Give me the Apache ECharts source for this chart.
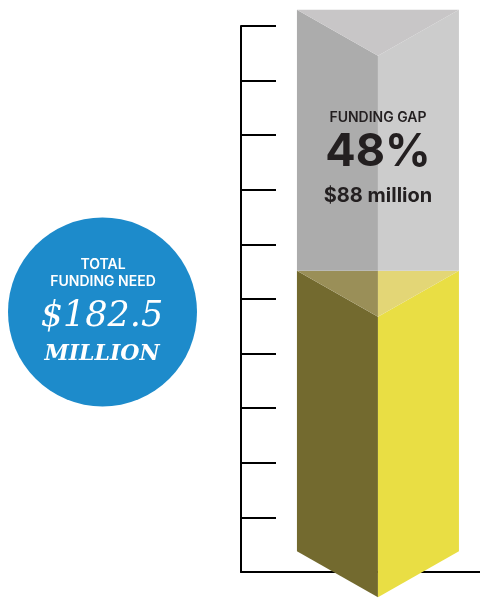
<!DOCTYPE html>
<html>
<head>
<meta charset="utf-8">
<script src="https://cdn.jsdelivr.net/npm/echarts@6/dist/echarts.min.js"></script>
<style>
  html, body { margin: 0; padding: 0; background: #fff; }
  #chart { width: 480px; height: 598px; }
</style>
</head>
<body>
<div id="chart"></div>
<script>
// values in millions
const segments = ['Funded', 'Funding gap']
const segmentValues = [94.5, 88]
const totalNeed = 182.5
// decorative scale on the left: 10 ticks
const scaleTicks = [0, 1, 2, 3, 4, 5, 6, 7, 8, 9, 10]

const funded = segmentValues[0]
const gap = segmentValues[1]
const gapPct = Math.round(gap / totalNeed * 100)

const chart = echarts.init(document.getElementById('chart'))

// prism shape (pixels)
const halfW = 81
const depth = 46

function poly (pts, fill) {
  return { type: 'polygon', shape: { points: pts }, style: { fill: fill } }
}

function renderPrism (params, api) {
  const x = api.value(0)
  const base = api.coord([x, 0])
  const mid = api.coord([x, api.value(1)])
  const top = api.coord([x, api.value(2)])
  const C = base[0]
  const L = C - halfW
  const R = C + halfW
  const yb = base[1]
  const yf = mid[1]
  const yt = top[1]
  return {
    type: 'group',
    children: [
      // yellow (funded) part
      poly([[L, yf], [C, yf + depth], [C, yb + depth], [L, yb]], '#736a2f'),
      poly([[C, yf + depth], [R, yf], [R, yb], [C, yb + depth]], '#e9de44'),
      poly([[L, yf], [C, yf], [C, yf + depth]], '#9a8f58'),
      poly([[C, yf], [R, yf], [C, yf + depth]], '#e3d676'),
      // gray (gap) part
      poly([[L, yt], [C, yt + depth], [C, yf], [L, yf]], '#acacac'),
      poly([[C, yt + depth], [R, yt], [R, yf], [C, yf]], '#cccccc'),
      poly([[L, yt], [R, yt], [C, yt + depth]], '#c8c6c7'),
      // labels
      {
        type: 'text',
        style: { text: 'FUNDING GAP', x: C, y: yt + 108, align: 'center', verticalAlign: 'middle', fill: '#231f20', font: '600 14px Inter, sans-serif' }
      },
      {
        type: 'text',
        style: { text: gapPct + '%', x: C, y: yt + 143, align: 'center', verticalAlign: 'middle', fill: '#231f20', font: 'bold 45px Inter, sans-serif' }
      },
      {
        type: 'text',
        style: { text: '$' + gap + ' million', x: C, y: yt + 186, align: 'center', verticalAlign: 'middle', fill: '#231f20', font: 'bold 20px Inter, sans-serif' }
      }
    ]
  }
}

const option = {
  animation: false,
  grid: { left: 241, right: 0, top: 26, bottom: 26 },
  xAxis: {
    type: 'value',
    min: 0,
    max: 100,
    axisLine: { show: true, lineStyle: { color: '#000', width: 2 } },
    axisTick: { show: false },
    axisLabel: { show: false },
    splitLine: { show: false }
  },
  yAxis: [
    {
      type: 'value',
      min: scaleTicks[0],
      max: scaleTicks[scaleTicks.length - 1],
      interval: 1,
      axisLine: { show: true, lineStyle: { color: '#000', width: 2 } },
      axisTick: { show: true, inside: true, length: 35, lineStyle: { color: '#000', width: 2 } },
      axisLabel: { show: false },
      splitLine: { show: false }
    },
    {
      type: 'value',
      show: false,
      min: -7,
      max: 177,
      splitLine: { show: false }
    }
  ],
  series: [
    {
      type: 'custom',
      name: segments.join(' / '),
      yAxisIndex: 1,
      z: 5,
      renderItem: renderPrism,
      data: [[57.3, funded, totalNeed]]
    }
  ],
  graphic: [
    {
      type: 'circle',
      shape: { cx: 102.5, cy: 312, r: 94.5 },
      style: { fill: '#1d8bcb' }
    },
    {
      type: 'text',
      style: { text: 'TOTAL', x: 103, y: 265, align: 'center', verticalAlign: 'middle', fill: '#fff', font: '600 14px Inter, sans-serif' }
    },
    {
      type: 'text',
      style: { text: 'FUNDING NEED', x: 103, y: 282, align: 'center', verticalAlign: 'middle', fill: '#fff', font: '600 14px Inter, sans-serif' }
    },
    {
      type: 'text',
      style: { text: '$' + totalNeed, x: 102, y: 317, align: 'center', verticalAlign: 'middle', fill: '#fff', font: 'italic 300 35px "DejaVu Serif", serif' }
    },
    {
      type: 'text',
      style: { text: 'MILLION', x: 102, y: 354, align: 'center', verticalAlign: 'middle', fill: '#fff', font: 'italic bold 22px "DejaVu Serif", serif' }
    }
  ]
}

chart.setOption(option)
</script>
</body>
</html>
